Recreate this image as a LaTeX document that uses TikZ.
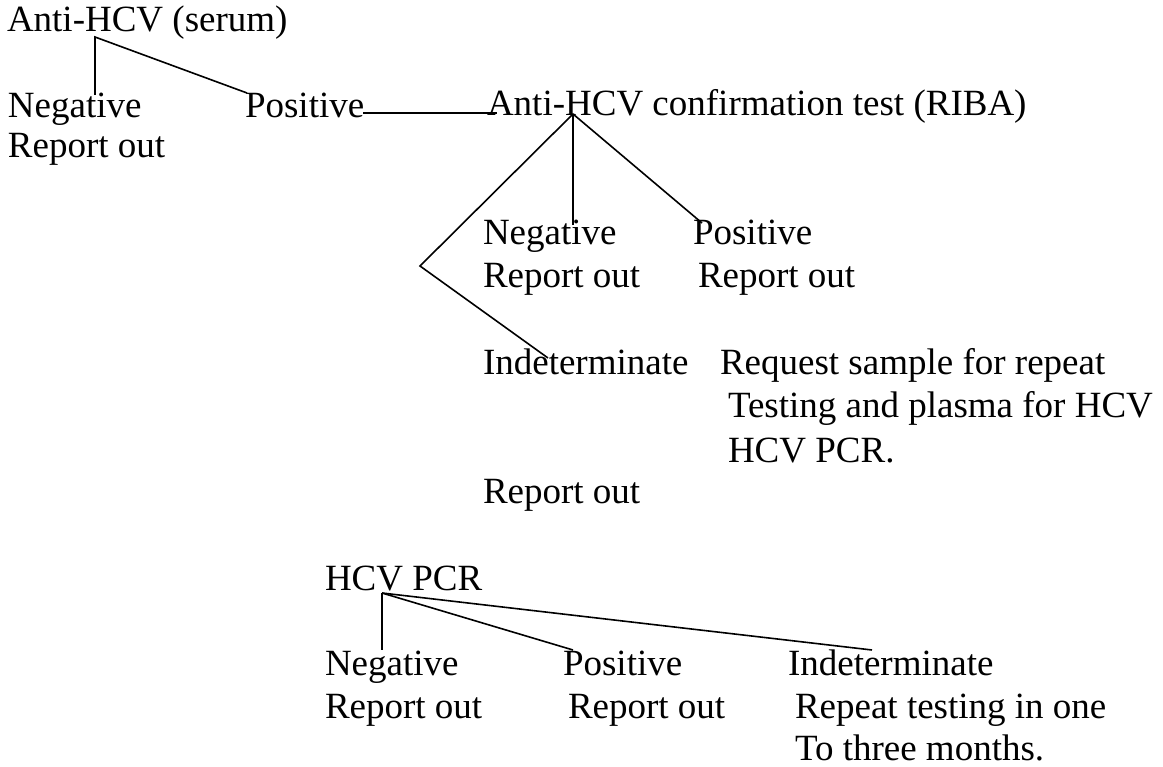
\documentclass[tikz,border=0pt]{standalone}
\usepackage{fontspec}
\setmainfont{Liberation Serif}
\usetikzlibrary{calc}
\begin{document}
\begin{tikzpicture}[x=1pt,y=-1pt,
  lbl/.style={anchor=base west,inner sep=0pt,outer sep=0pt,font=\fontsize{37}{44}\selectfont},
  conn/.style={draw=black,line width=1.6pt}]
\useasboundingbox[fill=white] (0,0) rectangle (1163,767);
% level 1
\node[lbl] (t1) at (7,32) {Anti-HCV (serum)};
\node[lbl] (n1) at (8,118) {Negative};
\node[lbl] (n1r) at (8,158) {Report out};
\node[lbl] (p1) at (245,118) {Positive};
\coordinate (t1a) at (95,37);
\coordinate (n1t) at (95,95);
\coordinate (p1t) at (247,93);
\draw[conn] (n1t) -- (t1a) -- (p1t);
% confirmation
\node[lbl] (c1) at (487,116) {Anti-HCV confirmation test (RIBA)};
\coordinate (p1e) at (363,113);
\coordinate (c1w) at (497,113);
\draw[conn] (p1e) -- (c1w);
\node[lbl] (n2) at (483,245) {Negative};
\node[lbl] (n2r) at (483,288) {Report out};
\node[lbl] (p2) at (693,245) {Positive};
\node[lbl] (p2r) at (698,288) {Report out};
\node[lbl] (i2) at (483,375) {Indeterminate};
\node[lbl] (rq1) at (720,375) {Request sample for repeat};
\node[lbl] (rq2) at (728,418) {Testing and plasma for HCV};
\node[lbl] (rq3) at (728,462) {HCV PCR.};
\node[lbl] (i2r) at (483,503) {Report out};
\coordinate (c1a) at (573,114);
\coordinate (n2t) at (573,225);
\coordinate (p2t) at (702,223);
\coordinate (v) at (420,266);
\coordinate (i2t) at (548,358);
\draw[conn] (c1a) -- (n2t);
\draw[conn] (c1a) -- (p2t);
\draw[conn] (c1a) -- (v) -- (i2t);
% PCR
\node[lbl] (h) at (325,590) {HCV PCR};
\node[lbl] (n3) at (325,675) {Negative};
\node[lbl] (n3r) at (325,718) {Report out};
\node[lbl] (p3) at (563,675) {Positive};
\node[lbl] (p3r) at (568,718) {Report out};
\node[lbl] (i3) at (788,675) {Indeterminate};
\node[lbl] (i3r1) at (795,718) {Repeat testing in one};
\node[lbl] (i3r2) at (795,760) {To three months.};
\coordinate (ha) at (382,593);
\coordinate (n3t) at (382,650);
\coordinate (p3t) at (573,650);
\coordinate (i3t) at (872,650);
\draw[conn] (ha) -- (n3t);
\draw[conn] (ha) -- (p3t);
\draw[conn] (ha) -- (i3t);
\end{tikzpicture}
\end{document}
